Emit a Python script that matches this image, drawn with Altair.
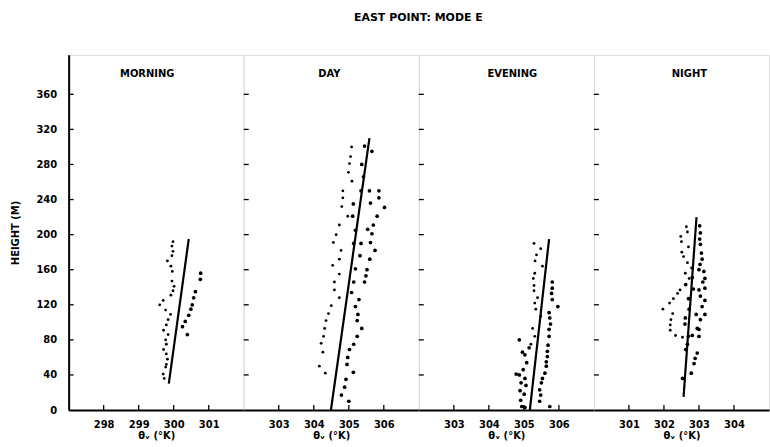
import altair as alt
import pandas as pd

# ---------------- data ----------------
chart_title = "EAST POINT: MODE E"
panel_names = ["MORNING", "DAY", "EVENING", "NIGHT"]
x_domains = [[297, 302], [302, 307], [302, 307], [300, 305]]
x_ticks = [[298, 299, 300, 301], [303, 304, 305, 306], [303, 304, 305, 306], [301, 302, 303, 304]]
height_domain = [0, 405]
height_ticks = [0, 40, 80, 120, 160, 200, 240, 280, 320, 360]

morning_a_theta = [299.98, 299.95, 299.98, 299.95, 299.82, 299.92, 299.96, 299.95, 300.01, 299.98,
                   299.92, 299.70, 299.60, 299.77, 299.91, 299.84, 299.79, 299.71, 299.84, 299.77,
                   299.79, 299.71, 299.79, 299.82, 299.79, 299.77, 299.70, 299.73]
morning_a_height = [192, 187, 181, 176, 170, 164, 158, 147, 141, 136, 131, 125, 120, 114, 109, 103,
                    97, 91, 86, 80, 75, 69, 64, 58, 52, 49, 41, 36]
morning_b_theta = [300.77, 300.76, 300.62, 300.57, 300.53, 300.49, 300.43, 300.33, 300.25, 300.39]
morning_b_height = [156, 149, 135, 128, 120, 115, 108, 101, 95, 86]
morning_fit_theta = [299.86, 300.43]
morning_fit_height = [30, 195]

day_a_theta = [305.08, 305.05, 305.02, 304.99, 305.09, 304.83, 304.83, 304.80, 304.97, 304.73,
               304.64, 304.56, 304.78, 304.73, 304.54, 304.73, 304.59, 304.59, 304.73, 304.50,
               304.42, 304.35, 304.31, 304.28, 304.21, 304.26, 304.16, 304.33]
day_a_height = [300, 289, 281, 271, 261, 250, 242, 232, 221, 211, 200, 191, 182, 172, 165, 155,
                146, 137, 128, 119, 110, 102, 93, 84, 76, 66, 50, 42]
day_b_theta = [305.45, 305.66, 305.37, 305.42, 305.35, 305.59, 305.13, 305.62, 305.86, 305.86,
               306.02, 305.11, 305.81, 305.19, 305.70, 305.54, 305.66, 305.14, 305.35, 305.62,
               305.75, 305.32, 305.60, 305.19, 305.52, 305.49, 305.14, 305.45, 305.08, 305.29,
               305.19, 305.26, 305.24, 305.37, 305.24, 305.14, 305.02, 304.97, 304.95, 305.13,
               304.92, 304.88, 304.79, 305.00]
day_b_height = [301, 295, 280, 266, 250, 250, 235, 236, 250, 242, 231, 221, 221, 205, 211, 206,
                201, 190, 190, 191, 182, 176, 172, 161, 160, 153, 146, 146, 134, 126, 118, 109,
                102, 93, 84, 75, 69, 60, 52, 43, 35, 26, 17, 10]
day_fit_theta = [304.49, 305.59]
day_fit_height = [0, 310]

evening_a_theta = [305.29, 305.48, 305.36, 305.32, 305.53, 305.31, 305.27, 305.29, 305.29, 305.39,
                   305.31, 305.34, 305.48, 305.25, 305.31, 305.20]
evening_a_height = [190, 184, 177, 170, 164, 156, 150, 142, 136, 128, 122, 115, 107, 93, 84, 75]
evening_b_theta = [304.87, 305.15, 304.96, 305.03, 305.08, 304.98, 304.78, 304.87, 305.03, 304.92,
                   305.06, 304.89, 305.01, 304.91, 304.94, 305.03,
                   305.81, 305.81, 305.79, 305.81, 305.97, 305.72, 305.74, 305.76, 305.72, 305.72,
                   305.69, 305.67, 305.67, 305.64, 305.64, 305.60, 305.53, 305.50, 305.45, 305.48,
                   305.45, 305.74]
evening_b_height = [80, 71, 66, 63, 54, 46, 41, 40, 36, 31, 28, 22, 18, 11, 4, 3,
                    146, 139, 133, 126, 118, 111, 105, 98, 92, 84, 74, 67, 61, 55, 50, 42, 36, 31,
                    23, 17, 10, 4]
evening_fit_theta = [305.17, 305.72]
evening_fit_height = [0, 195]

night_a_theta = [302.64, 302.67, 302.48, 302.50, 302.70, 302.51, 302.56, 302.67, 302.79, 302.61,
                 302.72, 302.46, 302.39, 302.27, 302.16, 301.97, 302.25, 302.20, 302.18, 302.18,
                 302.33, 302.53]
night_a_height = [209, 203, 198, 192, 186, 180, 175, 168, 162, 156, 150, 137, 133, 127, 122, 115,
                  110, 103, 97, 91, 85, 83]
night_b_theta = [303.02, 303.04, 303.02, 303.04, 303.07, 303.09, 303.03, 303.00, 303.14, 303.17,
                 303.11, 303.17, 303.00, 303.04, 303.17, 303.09, 303.17, 302.92, 303.04, 302.95,
                 303.00, 302.81, 303.00, 302.95, 302.89, 302.86, 302.78,
                 302.81, 302.62, 302.84, 302.70, 302.72, 302.61, 302.60, 302.70, 302.67, 302.62,
                 302.53]
night_b_height = [210, 202, 195, 189, 179, 172, 166, 160, 158, 150, 146, 139, 137, 130, 125, 118,
                  109, 109, 103, 93, 92, 85, 84, 65, 59, 53, 42,
                  151, 143, 138, 127, 115, 105, 98, 84, 75, 69, 36]
night_fit_theta = [302.56, 302.93]
night_fit_height = [15, 220]

# ---------------- chart ----------------
FONT = "DejaVu Sans"
W, H = 176, 357
name_dx = [-9, -2, 6, 8]

panels_data = [
    (morning_a_theta, morning_a_height, morning_b_theta, morning_b_height, morning_fit_theta, morning_fit_height),
    (day_a_theta, day_a_height, day_b_theta, day_b_height, day_fit_theta, day_fit_height),
    (evening_a_theta, evening_a_height, evening_b_theta, evening_b_height, evening_fit_theta, evening_fit_height),
    (night_a_theta, night_a_height, night_b_theta, night_b_height, night_fit_theta, night_fit_height),
]


def make_panel(i):
    a_t, a_h, b_t, b_h, f_t, f_h = panels_data[i]
    xs = alt.Scale(domain=x_domains[i], nice=False, zero=False)
    ys = alt.Scale(domain=height_domain, nice=False, zero=False)
    x_axis = alt.Axis(values=x_ticks[i], ticks=False, grid=False, domain=True, domainColor="black",
                      domainWidth=2, labelPadding=10, labelFont=FONT, labelFontSize=10,
                      labelFontWeight="bold", labelColor="black", title="θᵥ (°K)", titleFont=FONT,
                      titleFontSize=10, titleFontWeight="bold", titleColor="black", titlePadding=1,
                      format="d", labelFlush=False)
    if i == 0:
        y_axis = alt.Axis(values=height_ticks, ticks=False, grid=False, domain=True,
                          domainColor="black", domainWidth=2, labelPadding=12, labelFont=FONT,
                          labelFontSize=10, labelFontWeight="bold", labelColor="black",
                          title="HEIGHT (M)", titleFont=FONT, titleFontSize=10,
                          titleFontWeight="bold", titleColor="black", titlePadding=16,
                          labelFlush=False)
    else:
        y_axis = None

    X = alt.X("t:Q", scale=xs, axis=x_axis)
    Y = alt.Y("h:Q", scale=ys, axis=y_axis)

    pts_a = alt.Chart(pd.DataFrame({"t": a_t, "h": a_h})).mark_circle(
        size=8, color="black", opacity=1).encode(x=X, y=Y)
    pts_b = alt.Chart(pd.DataFrame({"t": b_t, "h": b_h})).mark_circle(
        size=14, color="black", opacity=1).encode(x=X, y=Y)
    fit = alt.Chart(pd.DataFrame({"t": f_t, "h": f_h})).mark_line(
        color="black", strokeWidth=2.2).encode(x=X, y=Y)
    xt = alt.Chart(pd.DataFrame({"t": x_ticks[i]})).mark_rule(
        color="black", strokeWidth=1.3).encode(x=X, y=alt.value(H), y2=alt.value(H - 5))
    yt = alt.Chart(pd.DataFrame({"h": height_ticks[1:]})).mark_rule(
        color="black", strokeWidth=1.3).encode(y=Y, x=alt.value(0), x2=alt.value(5))
    label = alt.Chart(pd.DataFrame({"name": [panel_names[i]]})).mark_text(
        font=FONT, fontSize=10, fontWeight="bold", color="black", baseline="middle").encode(
        text="name:N", x=alt.value(W / 2 + name_dx[i]), y=alt.value(19))

    return alt.layer(xt, yt, pts_a, pts_b, fit, label).properties(width=W, height=H)


chart = alt.hconcat(*[make_panel(i) for i in range(4)], spacing=0, bounds="flush").properties(
    title=alt.TitleParams(chart_title, anchor="middle", frame="bounds", font=FONT, fontSize=11,
                          fontWeight="bold", color="black", offset=32, dx=29),
    padding={"left": 9, "top": 10, "right": 0, "bottom": 0},
).configure_view(stroke="black", strokeWidth=1.5).configure(background="white")

chart.save("out.html", embed_options={"renderer": "svg", "actions": False})
